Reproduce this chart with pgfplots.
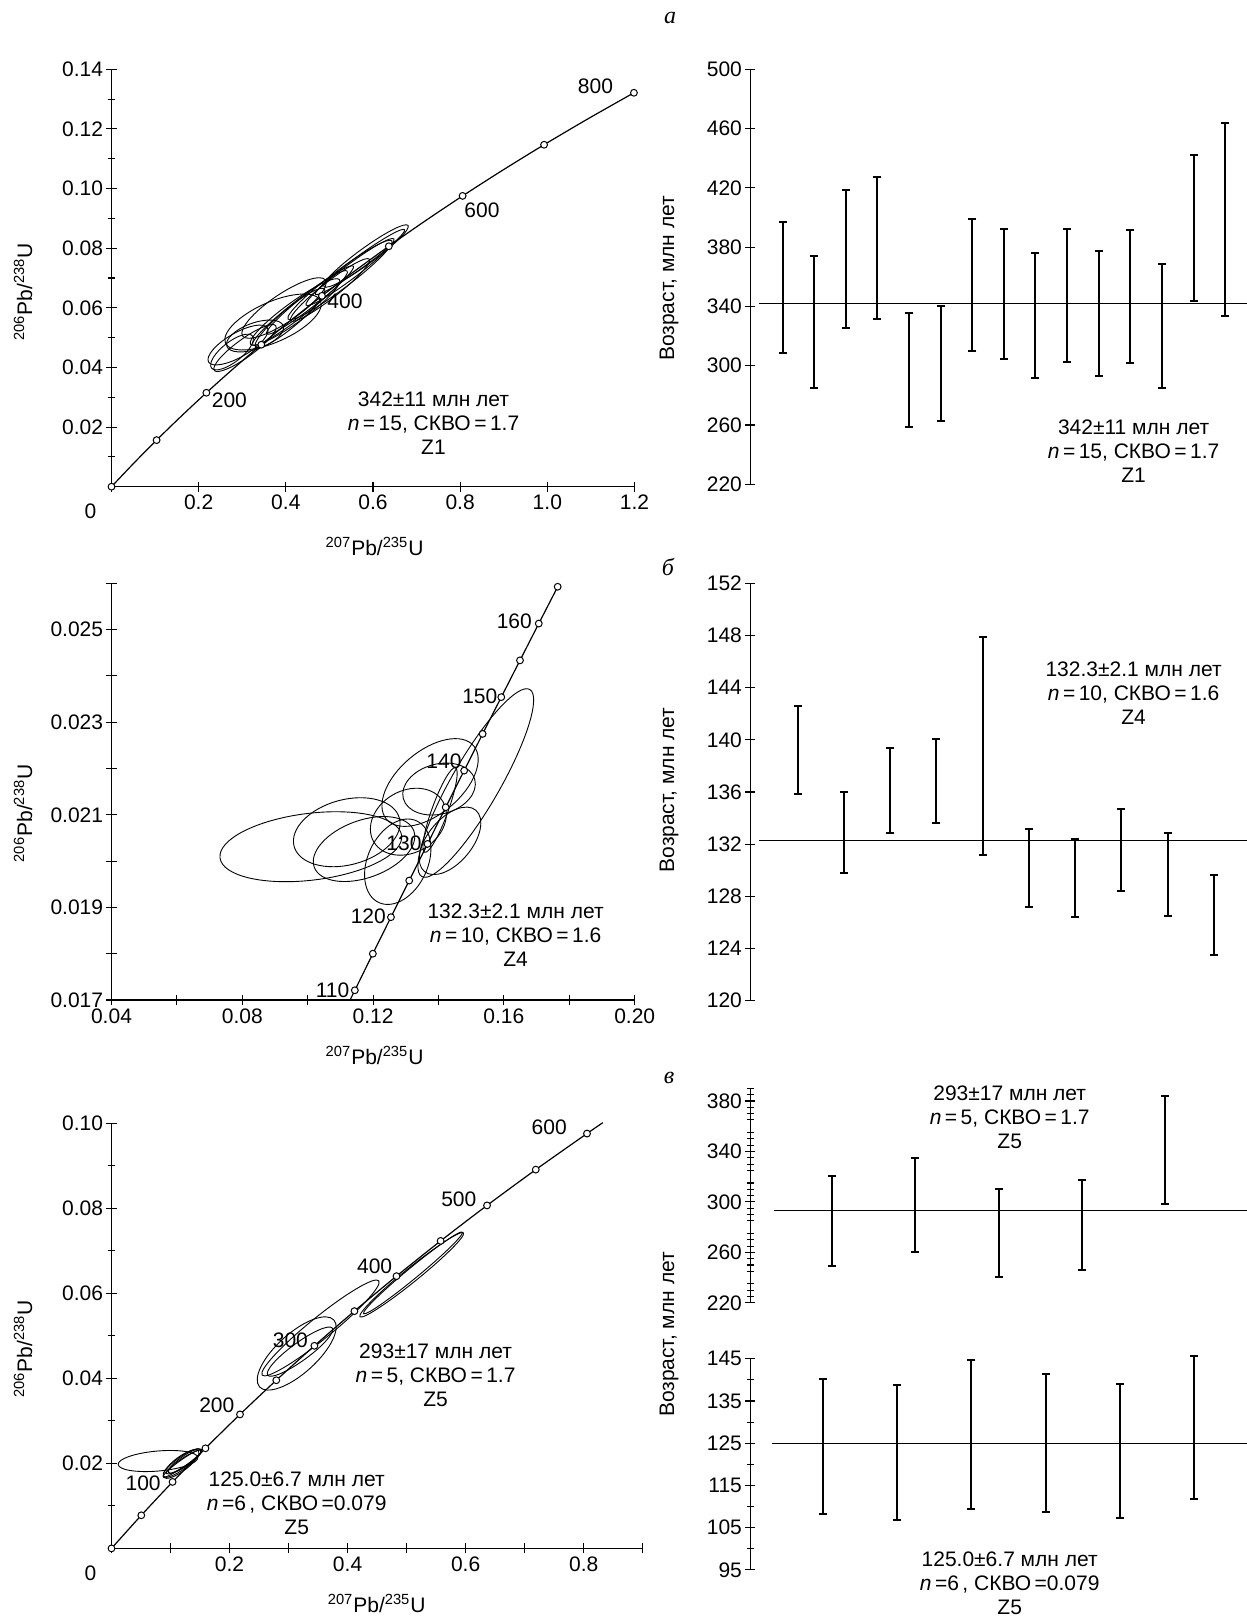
\documentclass[border=0pt]{standalone}
\usepackage{fontspec}
\setmainfont{Liberation Sans}
\newfontfamily\serifcyr{Liberation Serif}
\usepackage{pgfplots}
\pgfplotsset{compat=1.18}

\newcommand{\tf}{\fontsize{10.5}{12}\selectfont}
\newcommand{\ellip}[5]{\draw[black, line width=0.45pt, rotate around={#5:(axis cs:#1,#2)}] (axis cs:#1,#2) ellipse [x radius=#3pt, y radius=#4pt];}
\newcommand{\ebar}[3]{\addplot[barst] coordinates {(#1,#2) (#1,#3)};}
\newcommand{\ratioX}{\textsuperscript{207}Pb/\textsuperscript{235}U}
\newcommand{\ratioY}{\textsuperscript{206}Pb/\textsuperscript{238}U}

\pgfplotsset{
  noarrows/.style={axis line style={-, line width=0.6pt},
    every inner x axis line/.append style={-}, every outer x axis line/.append style={-},
    every inner y axis line/.append style={-}, every outer y axis line/.append style={-}},
  base/.style={scale only axis, clip=false, anchor=south west,
    tick align=outside, major tick length=5pt, minor tick length=3.5pt,
    every tick/.style={black, line width=0.55pt},
    ticklabel style={font=\tf, inner sep=1.5pt},
    scaled ticks=false,
    /pgf/number format/assume math mode=true},
  conc/.style={base, axis x line=bottom, axis y line=left, noarrows},
  agep/.style={base, axis x line=none, axis y line=left, noarrows},
  concline/.style={black, line width=0.6pt, smooth, no marks},
  concmark/.style={only marks, mark=*, mark size=1.7pt, mark options={draw=black, fill=white, line width=0.5pt}},
  barst/.style={black, line width=1pt, mark=-, mark size=2pt, mark options={line width=1pt}},
  refline/.style={black, line width=0.5pt, no marks},
}

\begin{document}
\begin{tikzpicture}
\path[use as bounding box] (0,0) rectangle (623.5pt,-809.5pt);

% ================= A left =================
\begin{axis}[conc, at={(55.75pt,-243.35pt)}, width=261.5pt, height=208.7pt,
  xmin=0, xmax=1.2, ymin=0, ymax=0.14,
  xtick={0,0.2,0.4,0.6,0.8,1.0,1.2}, xticklabels={,0.2,0.4,0.6,0.8,1.0,1.2},
  ytick={0.02,0.04,0.06,0.08,0.10,0.12,0.14}, yticklabels={0.02,0.04,0.06,0.08,0.10,0.12,0.14},
  minor ytick={0.01,0.03,0.05,0.07,0.09,0.11,0.13}]
\addplot[concline] coordinates {(0,0) (0.05048,0.007786) (0.10350,0.015633) (0.15920,0.023542) (0.21771,0.031511) (0.27917,0.039543) (0.34374,0.047637) (0.41156,0.055795) (0.48283,0.064016) (0.55765,0.072300) (0.63628,0.080650) (0.71887,0.089064) (0.80563,0.097544) (0.89677,0.10609) (0.99251,0.11470) (1.09308,0.12338) (1.19870,0.13213)};
\ellip{0.3706}{0.05524}{26}{10}{24}
\ellip{0.3958}{0.05994}{25}{7}{34}
\ellip{0.2903}{0.04753}{17}{6}{30}
\ellip{0.3063}{0.04652}{19}{4.5}{36}
\ellip{0.2765}{0.04518}{13}{5}{38}
\ellip{0.3293}{0.05055}{15}{6.5}{20}
\ellip{0.4325}{0.05994}{30}{4}{38}
\ellip{0.4211}{0.05860}{27.5}{5}{36}
\ellip{0.4555}{0.06262}{27.5}{3.5}{38}
\ellip{0.4096}{0.05658}{22.5}{4.5}{40}
\ellip{0.5243}{0.06933}{32.5}{4.5}{37}
\ellip{0.5473}{0.07201}{27.5}{3.5}{37}
\ellip{0.5840}{0.07738}{26}{4}{36}
\ellip{0.5702}{0.07537}{27.5}{3}{36}
\ellip{0.5014}{0.06598}{25}{4}{38}
\addplot[concmark] coordinates {(0,0) (0.10350,0.015633) (0.21771,0.031511) (0.34374,0.047637) (0.48283,0.064016) (0.63628,0.080650) (0.80563,0.097544) (0.99251,0.11470) (1.19870,0.13213)};
\end{axis}

% ================= A right =================
\begin{axis}[agep, at={(375.15pt,-242.15pt)}, width=248.35pt, height=207.5pt,
  xmin=-0.02, xmax=15.69, ymin=220, ymax=500,
  ytick={220,260,300,340,380,420,460,500}]
\addplot[refline] coordinates {(0.26,342) (15.69,342)};
\ebar{1}{308.4}{397.2}
\ebar{2}{285.2}{374.0}
\ebar{3}{325.5}{418.8}
\ebar{4}{331.8}{427.4}
\ebar{5}{258.9}{335.4}
\ebar{6}{262.9}{340.3}
\ebar{7}{310.0}{399.2}
\ebar{8}{304.3}{392.3}
\ebar{9}{291.7}{375.8}
\ebar{10}{302.7}{392.3}
\ebar{11}{293.1}{377.4}
\ebar{12}{301.6}{391.6}
\ebar{13}{285.0}{368.4}
\ebar{14}{343.7}{442.0}
\ebar{15}{333.6}{463.8}
\end{axis}

% ================= B left =================
\begin{axis}[conc, at={(55.75pt,-500pt)}, width=261.6pt, height=208.35pt,
  xmin=0.04, xmax=0.20, ymin=0.017, ymax=0.026,
  xtick={0.04,0.06,0.08,0.10,0.12,0.14,0.16,0.18,0.20}, xticklabels={0.04,,0.08,,0.12,,0.16,,0.20},
  ytick={0.017,0.018,0.019,0.020,0.021,0.022,0.023,0.024,0.025,0.026},
  yticklabels={0.017,,0.019,,0.021,,0.023,,0.025,}]
\addplot[concline] coordinates {(0.11296,0.017000) (0.11442,0.017210) (0.11992,0.018000) (0.12546,0.018789) (0.13104,0.019580) (0.13664,0.020371) (0.14220,0.021163) (0.14784,0.021955) (0.15350,0.022748) (0.15920,0.023542) (0.16492,0.024336) (0.17067,0.025131) (0.17645,0.025926)};
\ellip{0.10096}{0.020311}{45.75}{16.7}{7}
\ellip{0.11194}{0.020624}{27.25}{16.3}{15}
\ellip{0.11723}{0.020261}{26.5}{14.35}{20}
\ellip{0.13078}{0.020851}{20}{15.5}{30}
\ellip{0.12754}{0.019987}{22.5}{15}{65}
\ellip{0.14017}{0.021557}{18.5}{12.5}{15}
\ellip{0.13742}{0.021698}{28.5}{15.75}{40}
\ellip{0.14354}{0.020438}{20}{11}{50}
\ellip{0.1514}{0.021687}{54}{12}{60}
\ellip{0.14048}{0.021104}{22.5}{4}{70}
\addplot[concmark] coordinates {(0.11442,0.017210) (0.11992,0.018000) (0.12546,0.018789) (0.13104,0.019580) (0.13664,0.020371) (0.14220,0.021163) (0.14784,0.021955) (0.15350,0.022748) (0.15920,0.023542) (0.16492,0.024336) (0.17067,0.025131) (0.17645,0.025926)};
\end{axis}

% ================= B right =================
\begin{axis}[agep, at={(375.15pt,-500.35pt)}, width=248.35pt, height=208.7pt,
  xmin=-0.023, xmax=10.717, ymin=120, ymax=152,
  ytick={120,124,128,132,136,140,144,148,152}]
\addplot[refline] coordinates {(0.17,132.3) (10.717,132.3)};
\ebar{1}{135.85}{142.6}
\ebar{2}{129.8}{136.0}
\ebar{3}{132.86}{139.35}
\ebar{4}{133.6}{140.06}
\ebar{5}{131.17}{147.9}
\ebar{6}{127.2}{133.19}
\ebar{7}{126.42}{132.42}
\ebar{8}{128.38}{134.67}
\ebar{9}{126.52}{132.83}
\ebar{10}{123.5}{129.6}
\end{axis}

% ================= C left =================
\begin{axis}[conc, at={(55.75pt,-774.2pt)}, width=265.6pt, height=212.65pt,
  xmin=0, xmax=0.9, ymin=0, ymax=0.10,
  xtick={0,0.1,0.2,0.3,0.4,0.5,0.6,0.7,0.8,0.9}, xticklabels={,,0.2,,0.4,,0.6,,0.8,},
  ytick={0.02,0.04,0.06,0.08,0.10}, yticklabels={0.02,0.04,0.06,0.08,0.10},
  minor ytick={0.01,0.03,0.05,0.07,0.09}]
\addplot[concline] coordinates {(0,0) (0.05048,0.007786) (0.10350,0.015633) (0.15920,0.023542) (0.21771,0.031511) (0.27917,0.039543) (0.34374,0.047637) (0.41156,0.055795) (0.48283,0.064016) (0.55765,0.072300) (0.63628,0.080650) (0.71887,0.089064) (0.80563,0.097544) (0.83251,0.10010)};
\ellip{0.0788}{0.02055}{20}{5}{5}
\ellip{0.1195}{0.02008}{11.5}{3}{36}
\ellip{0.1228}{0.02031}{10.5}{2}{33}
\ellip{0.1178}{0.01985}{11}{3.5}{37}
\ellip{0.1245}{0.02055}{10}{2.5}{35}
\ellip{0.1211}{0.02008}{12}{1.75}{35}
\ellip{0.5086}{0.06433}{33.3}{3.5}{39}
\ellip{0.5108}{0.06478}{32}{2.75}{39.5}
\ellip{0.3541}{0.05184}{37.5}{5.5}{39}
\ellip{0.3138}{0.04584}{25}{10}{42}
\ellip{0.3194}{0.04627}{20}{4.5}{36}
\addplot[concmark] coordinates {(0,0) (0.05048,0.007786) (0.10350,0.015633) (0.15920,0.023542) (0.21771,0.031511) (0.27917,0.039543) (0.34374,0.047637) (0.41156,0.055795) (0.48283,0.064016) (0.55765,0.072300) (0.63628,0.080650) (0.71887,0.089064) (0.80563,0.097544)};
\end{axis}

% ================= C right top =================
\begin{axis}[agep, at={(375.15pt,-651.4pt)}, width=248.35pt, height=107.2pt,
  xmin=0.025, xmax=5.977, ymin=220, ymax=390,
  ytick={220,260,300,340,380},
  minor ytick={225,230,235,245,250,255,265,270,275,285,290,295,305,310,315,325,330,335,345,350,355,365,370,375,385,390}]
\addplot[refline] coordinates {(0.304,293) (5.977,293)};
\ebar{1}{248.8}{320.4}
\ebar{2}{259.9}{335.1}
\ebar{3}{240.6}{310.5}
\ebar{4}{246.0}{317.2}
\ebar{5}{298.0}{384.0}
\end{axis}

% ================= C right bottom =================
\begin{axis}[agep, at={(375.15pt,-784.9pt)}, width=248.35pt, height=105.5pt,
  xmin=0.011, xmax=6.723, ymin=95, ymax=145,
  ytick={95,105,115,125,135,145}, minor ytick={100,110,120,130,140}]
\addplot[refline] coordinates {(0.3,125) (6.723,125)};
\ebar{1}{108.2}{140.1}
\ebar{2}{106.7}{138.7}
\ebar{3}{109.5}{144.7}
\ebar{4}{108.8}{141.5}
\ebar{5}{107.2}{139.1}
\ebar{6}{111.8}{145.6}
\end{axis}

% ================= texts =================
\begin{scope}[every node/.style={font=\tf, inner sep=0pt}]
\node[font=\serifcyr\itshape\fontsize{12}{14}\selectfont] at (335pt,-9.15pt) {а};
\node[font=\serifcyr\itshape\fontsize{12}{14}\selectfont] at (334pt,-283.35pt) {б};
\node[font=\serifcyr\itshape\fontsize{12}{14}\selectfont] at (334.5pt,-538.75pt) {в};

% A left
\node at (187.3pt,-273.35pt) {\ratioX};
\node[rotate=90] at (11.5pt,-145.85pt) {\ratioY};
\node at (45.25pt,-255.85pt) {0};
\node at (114.7pt,-200.35pt) {200};
\node at (172.5pt,-150.85pt) {400};
\node at (241pt,-105.35pt) {600};
\node at (297.75pt,-43.35pt) {800};
\node[align=center] at (216.75pt,-211.65pt) {342±11 млн лет\\\textit{n}\,=\,15, СКВО\,=\,1.7\\Z1};

% A right
\node[rotate=90] at (334.5pt,-139.15pt) {Возраст, млн лет};
\node[align=center] at (566.8pt,-225.65pt) {342±11 млн лет\\\textit{n}\,=\,15, СКВО\,=\,1.7\\Z1};

% B left
\node at (187.3pt,-527.5pt) {\ratioX};
\node[rotate=90] at (11.5pt,-406.65pt) {\ratioY};
\node at (257.15pt,-310.85pt) {160};
\node at (239.9pt,-348pt) {150};
\node at (222pt,-380.85pt) {140};
\node at (202pt,-421.65pt) {130};
\node at (184.15pt,-458.35pt) {120};
\node at (166.25pt,-495.35pt) {110};
\node[align=center] at (257.8pt,-467.35pt) {132.3±2.1 млн лет\\\textit{n}\,=\,10, СКВО\,=\,1.6\\Z4};

% B right
\node[rotate=90] at (334.5pt,-395pt) {Возраст, млн лет};
\node[align=center] at (566.8pt,-346.65pt) {132.3±2.1 млн лет\\\textit{n}\,=\,10, СКВО\,=\,1.6\\Z4};

% C left
\node at (188.35pt,-801.5pt) {\ratioX};
\node[rotate=90] at (11.5pt,-674.4pt) {\ratioY};
\node at (45.25pt,-786.7pt) {0};
\node at (274.6pt,-563.85pt) {600};
\node at (229.4pt,-599.5pt) {500};
\node at (187.3pt,-633pt) {400};
\node at (145.2pt,-669.95pt) {300};
\node at (108.4pt,-702.55pt) {200};
\node at (71.55pt,-741.75pt) {100};
\node[align=center] at (217.8pt,-687.65pt) {293±17 млн лет\\\textit{n}\,=\,5, СКВО\,=\,1.7\\Z5};
\node[align=center] at (148.35pt,-751.8pt) {125.0±6.7 млн лет\\\textit{n}\,=6\,, СКВО\,=0.079\\Z5};

% C right
\node[rotate=90] at (334.5pt,-667.25pt) {Возраст, млн лет};
\node[align=center] at (504.85pt,-558.5pt) {293±17 млн лет\\\textit{n}\,=\,5, СКВО\,=\,1.7\\Z5};
\node[align=center] at (504.85pt,-791.5pt) {125.0±6.7 млн лет\\\textit{n}\,=6\,, СКВО\,=0.079\\Z5};
\end{scope}
\end{tikzpicture}
\end{document}
